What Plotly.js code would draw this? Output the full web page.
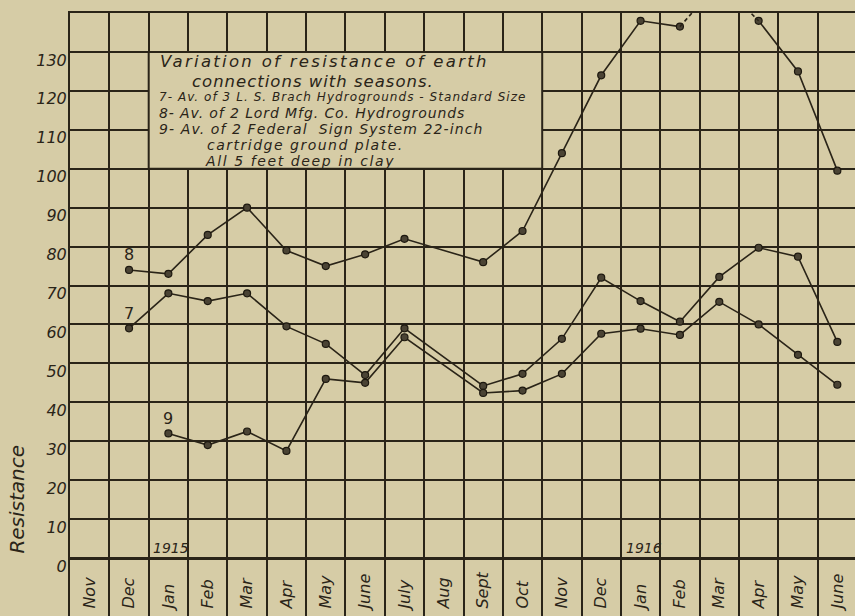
<!DOCTYPE html>
<html><head><meta charset="utf-8">
<script src="https://cdn.plot.ly/plotly-3.0.1.min.js"></script>
<style>html,body{margin:0;padding:0;overflow:hidden;background:#d6cca6}</style>
</head><body><div id="chart" style="width:860px;height:616px"></div>
<script>
// ---- data ----
const months = ['Nov','Dec','Jan','Feb','Mar','Apr','May','June','July','Aug','Sept','Oct','Nov','Dec','Jan','Feb','Mar','Apr','May','June'];
const monthYears = [1914,1914,1915,1915,1915,1915,1915,1915,1915,1915,1915,1915,1915,1915,1916,1916,1916,1916,1916,1916];
const series7 = [null,59,68,66,68,59.5,55,47,59,null,44.2,47.3,56.3,72,66,60.7,72.2,79.7,77.4,55.5];
const series8 = [null,74,73,83,90,79,75,78,82,null,76,84,104,124,138,136.5,148,138,125,99.5];
const series9 = [null,null,32,29,32.5,27.5,46,45,56.7,null,42.4,43,47.3,57.6,58.9,57.3,65.8,60,52.2,44.5];
const seriesNames = ['7','8','9'];
const yTicks = [0,10,20,30,40,50,60,70,80,90,100,110,120,130];
const yearLabels = ['1915','1916'];
const yearLabelMonths = ['Jan 1915','Jan 1916'];
const titleLines = [
  'Variation of resistance of earth',
  'connections with seasons.',
  '7- Av. of 3 L. S. Brach Hydrogrounds - Standard Size',
  '8- Av. of 2 Lord Mfg. Co. Hydrogrounds',
  '9- Av. of 2 Federal  Sign System 22-inch',
  'cartridge ground plate.',
  'All 5 feet deep in clay'
];
const yAxisTitle = 'Resistance';

// ---- styling ----
const INK = '#2a2418';
const PAPER = '#d6cca6';
const FONT = 'DejaVu Sans, Liberation Sans, sans-serif';
const Y_MIN = -14.9, Y_TOP = 140;

const categories = months.map((m,i)=> m + ' ' + monthYears[i]);

const traces = [];
const annotations = [];
[series7, series8, series9].forEach((vals, s) => {
  const xs = [], ys = [];
  vals.forEach((v,i)=>{ if(v!==null){ xs.push(categories[i]); ys.push(v); } });
  const solid = ys.map(v => v > Y_TOP ? null : v);
  traces.push({
    x: xs, y: solid, type: 'scatter', mode: 'lines+markers', connectgaps: false,
    line: {color: INK, width: 1.6},
    marker: {size: 7, color: '#4a4334', line: {color: '#1d180f', width: 1.2}},
    hoverinfo: 'x+y', name: seriesNames[s]
  });
  if (ys.some(v => v > Y_TOP)) {
    const dashed = ys.map((v,i)=> (v > Y_TOP || ys[i-1] > Y_TOP || ys[i+1] > Y_TOP) ? v : null);
    traces.push({
      x: xs, y: dashed, type: 'scatter', mode: 'lines', connectgaps: false,
      line: {color: INK, width: 1.6, dash: '4px,3px'}, hoverinfo: 'skip', name: seriesNames[s] + ' (off scale)'
    });
  }
  annotations.push({
    x: xs[0], y: ys[0], xref: 'x', yref: 'y', text: seriesNames[s], showarrow: false,
    yshift: 15, font: {family: FONT, size: 16, color: INK}
  });
});

yearLabels.forEach((t,i)=>{
  annotations.push({
    x: yearLabelMonths[i], y: 0, xref: 'x', yref: 'y', text: t, showarrow: false,
    yanchor: 'bottom', xshift: 3, yshift: 0,
    font: {family: FONT, size: 14, color: INK, style: 'italic'}
  });
});

// title box
const boxX0 = categories.indexOf('Jan 1915') - 0.5;
const boxX1 = categories.indexOf('Nov 1915') - 0.5;
const lineStyles = [
  {y: 127.5, dx: 9,  size: 16.5, ls: 2.3},
  {y: 122.5, dx: 41, size: 16.5, ls: 1.0},
  {y: 118.3, dx: 8,  size: 12, ls: 1.05},
  {y: 114.4, dx: 8,  size: 14, ls: 0.9},
  {y: 110.3, dx: 8,  size: 14, ls: 1.1},
  {y: 106.2, dx: 56, size: 14, ls: 1.5},
  {y: 102.1, dx: 54, size: 14, ls: 1.6}
];
titleLines.forEach((t,i)=>{
  const st = lineStyles[i];
  annotations.push({
    x: boxX0, y: st.y, xref: 'x', yref: 'y',
    text: '<span style="letter-spacing:' + st.ls + 'px">' + t + '</span>',
    showarrow: false, xanchor: 'left', yanchor: 'middle', align: 'left', xshift: st.dx,
    font: {family: FONT, size: st.size, color: INK, style: 'italic'}
  });
});

annotations.push({
  x: 0, xref: 'paper', xanchor: 'center', xshift: -53, y: 15, yref: 'y', text: yAxisTitle, showarrow: false,
  textangle: -90, font: {family: FONT, size: 20, color: INK, style: 'italic'}
});

const layout = {
  width: 860, height: 616,
  margin: {l: 70, r: 3, t: 13, b: 0},
  paper_bgcolor: PAPER, plot_bgcolor: PAPER,
  showlegend: false,
  xaxis: {
    type: 'category', categoryorder: 'array', categoryarray: categories,
    tickmode: 'array', tickvals: categories, ticktext: months,
    tickson: 'boundaries', ticks: '', range: [-0.5, categories.length - 0.5],
    showgrid: true, gridcolor: INK, gridwidth: 2,
    showline: true, mirror: true, linecolor: INK, linewidth: 2,
    tickangle: -90, ticklabelposition: 'inside', ticklabelstandoff: 2,
    tickfont: {family: FONT, size: 16, color: INK, style: 'italic'},
    automargin: false, fixedrange: true
  },
  yaxis: {
    range: [Y_MIN, Y_TOP], tickmode: 'array', tickvals: yTicks,
    showgrid: true, gridcolor: INK, gridwidth: 2,
    zeroline: true, zerolinecolor: INK, zerolinewidth: 3,
    showline: true, mirror: true, linecolor: INK, linewidth: 2,
    ticks: '', ticklabelshift: 8, ticklabelstandoff: -2,
    tickfont: {family: FONT, size: 16, color: INK, style: 'italic'},
    automargin: false, fixedrange: true
  },
  shapes: [{
    type: 'rect', xref: 'x', yref: 'y', x0: boxX0, x1: boxX1, y0: 100, y1: 130,
    fillcolor: PAPER, line: {color: INK, width: 2}, layer: 'between'
  }],
  annotations: annotations
};

Plotly.newPlot('chart', traces, layout, {displayModeBar: false, staticPlot: true});
</script></body></html>
